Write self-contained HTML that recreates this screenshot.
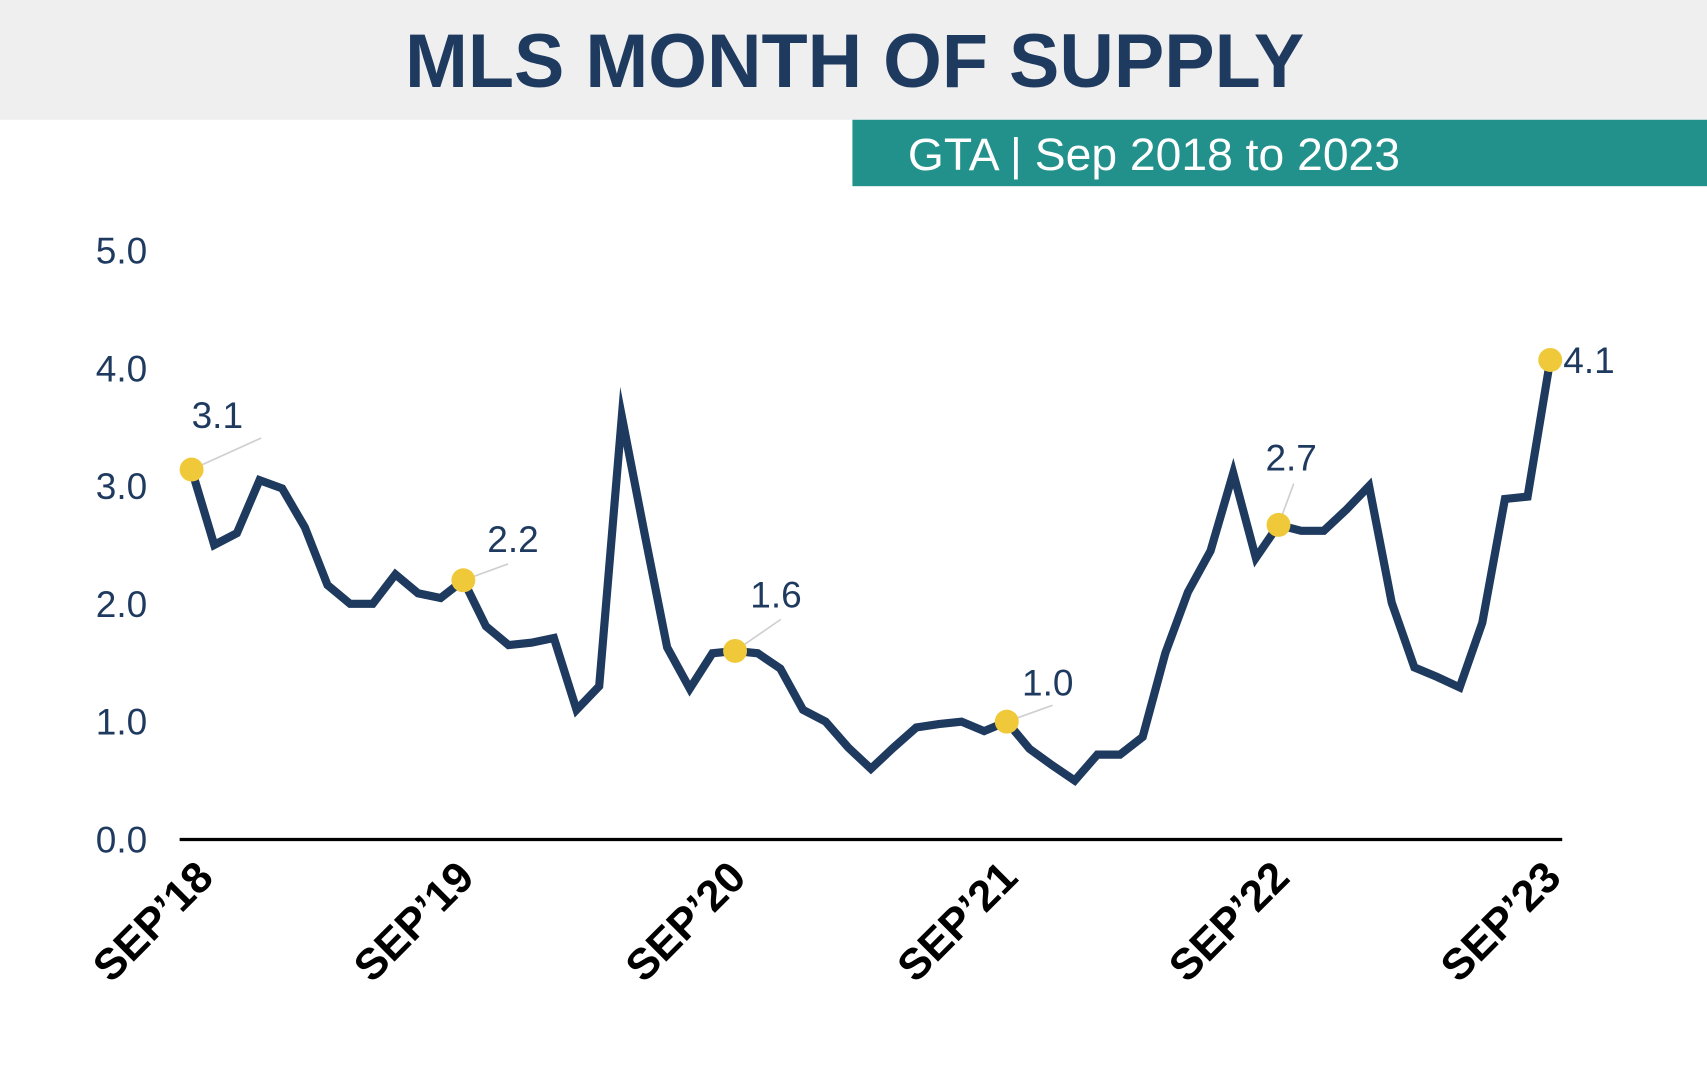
<!DOCTYPE html>
<html><head><meta charset="utf-8"><style>
html,body{margin:0;padding:0;background:#fff;}
svg{display:block;}
</style></head><body>
<svg id="chart" width="1707" height="1067" viewBox="0 0 1568 980" preserveAspectRatio="none" xmlns="http://www.w3.org/2000/svg">
<rect x="0" y="0" width="1568" height="110" fill="#efefef"/>
<text x="785" y="80" text-anchor="middle" font-family="Liberation Sans, sans-serif" font-weight="bold" font-size="70" fill="#1f3a5f" textLength="826" lengthAdjust="spacingAndGlyphs">MLS MONTH OF SUPPLY</text>
<rect x="783" y="110" width="785" height="61" fill="#22918b"/>
<text x="834" y="156" font-family="Liberation Sans, sans-serif" font-size="42" fill="#ffffff" textLength="452" lengthAdjust="spacingAndGlyphs">GTA | Sep 2018 to 2023</text>
<g id="yticks"></g>
<line x1="165" y1="771" x2="1435" y2="771" stroke="#000" stroke-width="3"/>
<g id="xticks"></g>
<g id="series"></g>
<g id="annots"></g>
</svg>
<script>
const values = [3.14,2.5,2.6,3.05,2.98,2.65,2.16,2.0,2.0,2.25,2.09,2.05,2.2,1.81,1.65,1.67,1.71,1.1,1.3,3.59,2.6,1.63,1.28,1.58,1.6,1.58,1.45,1.1,1.0,0.78,0.6,0.78,0.95,0.98,1.0,0.92,1.0,0.77,0.63,0.5,0.72,0.72,0.87,1.58,2.1,2.45,3.11,2.39,2.67,2.62,2.62,2.8,3.0,2.01,1.46,1.38,1.29,1.84,2.89,2.91,4.07];
const yTicks = [0,1,2,3,4,5];
const yTickLabels = ["0.0","1.0","2.0","3.0","4.0","5.0"];
const xTickMonths = [0,12,24,36,48,60];
const xTickLabels = ["SEP\u201918","SEP\u201919","SEP\u201920","SEP\u201921","SEP\u201922","SEP\u201923"];
const annotMonths = [0,12,24,36,48,60];
const annotLabels = ["3.1","2.2","1.6","1.0","2.7","4.1"];

const NS="http://www.w3.org/2000/svg";
const X0=176, X1=1424, Y0=771, PXU=108.2;
const x=m=>X0+(X1-X0)*m/60;
const y=v=>Y0-v*PXU;
function mk(tag,attrs,parent,txt){const e=document.createElementNS(NS,tag);for(const k in attrs)e.setAttribute(k,attrs[k]);if(txt!==undefined)e.textContent=txt;parent.appendChild(e);return e;}

const yg=document.getElementById('yticks');
yTicks.forEach((v,i)=>{
  const t=mk('text',{x:88,y:y(v)+12,'font-family':'Liberation Sans, sans-serif','font-size':34,fill:'#1f3a5f'},yg,yTickLabels[i]);
  
  
});
const xg=document.getElementById('xticks');
xTickMonths.forEach((m,i)=>{
  const tx=x(m)+(i===0?22:12), ty=808;
  const t=mk('text',{x:tx,y:ty,'text-anchor':'end','font-family':'Liberation Sans, sans-serif','font-weight':'bold','font-size':40,fill:'#000',transform:`rotate(-45 ${tx} ${ty})`},xg,xTickLabels[i]);
  
  
});
const sg=document.getElementById('series');
const pts=values.map((v,i)=>x(i).toFixed(1)+','+y(v).toFixed(1)).join(' ');
const pl=mk('polyline',{points:pts,fill:'none',stroke:'#1f3a5f','stroke-width':7.5,'stroke-linejoin':'miter','stroke-miterlimit':10},sg);



const ag=document.getElementById('annots');
const offs=[[64,-29,0,-38],[41,-15,22,-26],[42,-29,14,-40],[42,-15,14,-24],[14,-38,-12,-50],[12,0,12,12]];
annotMonths.forEach((m,i)=>{
  const cx=x(m), cy=y(values[m]);
  const o=offs[i];
  if(i<5){
    const ln=mk('line',{x1:cx,y1:cy,x2:cx+o[0],y2:cy+o[1],stroke:'#cfcfcf','stroke-width':1.5},ag);
    
    
  }
  const c=mk('circle',{cx:cx,cy:cy,r:11,fill:'#f0c93a'},ag);
  
  
  const t=mk('text',{x:cx+o[2],y:cy+o[3],'font-family':'Liberation Sans, sans-serif','font-size':34,fill:'#1f3a5f'},ag,annotLabels[i]);
  
  
});
</script>
</body></html>
